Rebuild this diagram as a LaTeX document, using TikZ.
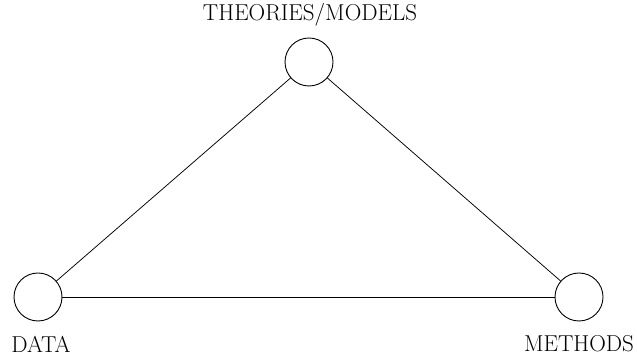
\documentclass[tikz,border=0pt]{standalone}
\usepackage{tikz}
\usetikzlibrary{positioning}

\begin{document}
\begin{tikzpicture}[x=1pt, y=1pt, every node/.style={font=\fontsize{23}{27}\selectfont},
    vertex/.style={draw, circle, minimum size=48pt, inner sep=0pt, line width=0.9pt},
    edge/.style={line width=0.75pt}]
      \useasboundingbox (0,0) rectangle (637,358);
      \node[vertex] (theo) at (309,296) {};
      \node[vertex] (data) at (38,61) {};
      \node[vertex] (meth) at (579,61) {};
      \node (theolbl) at (310,343) {THEORIES/MODELS};
      \node (datalbl) at (41,14) {DATA};
      \node (methlbl) at (579,14) {METHODS};
      \draw[edge] (theo) -- (data); \draw[edge] (theo) -- (meth);
      \draw[edge] (data) -- (meth);
    \end{tikzpicture}
\end{document}
